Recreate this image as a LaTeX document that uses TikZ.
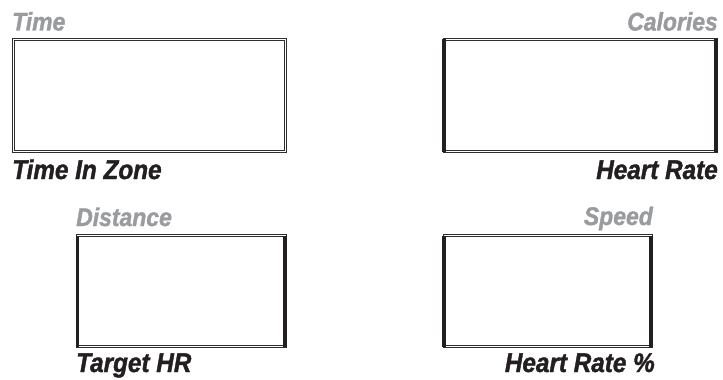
\documentclass[tikz,border=0pt]{standalone}
\usepackage{fontspec}
\newfontfamily\lblfont{Liberation Sans}[FakeStretch=0.9,FakeBold=1.4]
\definecolor{lblgray}{HTML}{9A9B9E}
\definecolor{lblblack}{HTML}{231F20}
\definecolor{edge}{HTML}{2E2E2E}
\tikzset{
  graylbl/.style={inner sep=0pt, text=lblgray, font=\lblfont\bfseries\itshape\fontsize{25.5}{28}\selectfont},
  blacklbl/.style={inner sep=0pt, text=lblblack, font=\lblfont\bfseries\itshape\fontsize{27}{30}\selectfont},
  dispbox/.style={draw=edge, line width=1.1pt, double=white, double distance=0.9pt, inner sep=0pt, outer sep=0pt},
  thickside/.style={draw=lblblack, line width=3.5pt}
}
\begin{document}
\begin{tikzpicture}[x=1pt,y=-1pt]
\useasboundingbox (0,0) rectangle (723,380);
% boxes
\node[dispbox, minimum width=272pt, minimum height=112pt] (tbox) at (149.2,95.2) {};
\node[dispbox, minimum width=272pt, minimum height=112.6pt] (cbox) at (580.2,95.5) {};
\node[dispbox, minimum width=207.7pt, minimum height=111pt] (dbox) at (181.3,291.3) {};
\node[dispbox, minimum width=207pt, minimum height=111pt] (sbox) at (547.7,291.3) {};
% heavy sides
\draw[thickside] (cbox.north west) -- (cbox.south west);
\draw[thickside] (cbox.north east) -- (cbox.south east);
\draw[thickside] (dbox.north west) -- (dbox.south west);
\draw[thickside] (dbox.north east) -- (dbox.south east);
\draw[thickside] (sbox.north west) -- (sbox.south west);
\draw[thickside] (sbox.north east) -- (sbox.south east);
% labels
\node[graylbl, anchor=base west] (ltime) at (12,30.5) {Time};
\node[graylbl, anchor=base east] (lcal) at (718,30.5) {Calories};
\node[blacklbl, anchor=base west] (lzone) at (12,179) {Time In Zone};
\node[blacklbl, anchor=base east] (lhr) at (718,179) {Heart Rate};
\node[graylbl, anchor=base west] (ldist) at (76,226) {Distance};
\node[graylbl, anchor=base east] (lspeed) at (653,225) {Speed};
\node[blacklbl, anchor=base west] (ltarget) at (76,372) {Target HR};
\node[blacklbl, anchor=base east] (lhrp) at (655,372) {Heart Rate \%};
\end{tikzpicture}
\end{document}
